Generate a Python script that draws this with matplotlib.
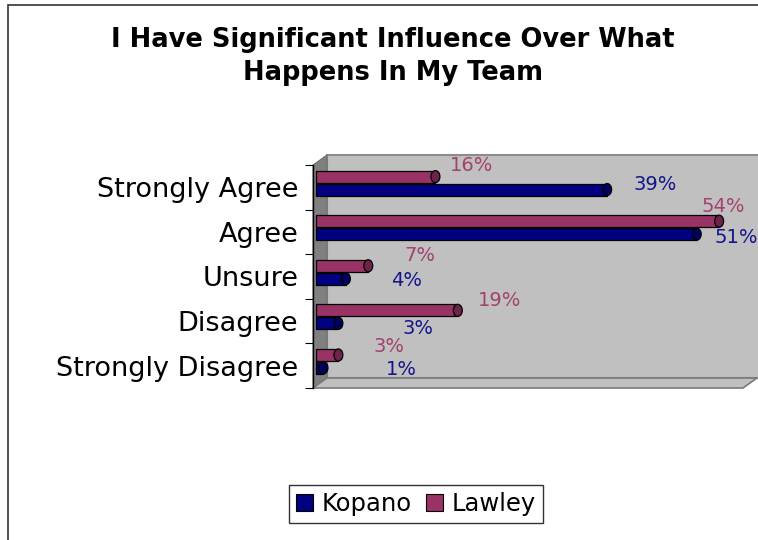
import numpy as np
import matplotlib.pyplot as plt
from matplotlib.patches import Polygon, Ellipse, Rectangle, Patch

# Survey results (percent of respondents)
categories = ['Strongly Agree', 'Agree', 'Unsure', 'Disagree', 'Strongly Disagree']
kopano = [39, 51, 4, 3, 1]
lawley = [16, 54, 7, 19, 3]
series_names = ['Kopano', 'Lawley']

# value label offsets from the bar end, in pixels (dx right, dy down)
kopano_lbl_dx = [48, 40, 61, 80, 78]
kopano_lbl_dy = [-5, 3, 2, 5, 2]
lawley_lbl_dx = [36, 4, 52, 42, 51]
lawley_lbl_dy = [-11, -15, -10, -10, -8]

KOPANO_COL = '#000080'
LAWLEY_COL = '#993366'
KOPANO_CAP = '#00005C'
LAWLEY_CAP = '#6E2449'
KOPANO_TXT = '#15158A'
LAWLEY_TXT = '#A3416F'

W, H = 758, 540
fig = plt.figure(figsize=(W / 100, H / 100), dpi=100)
fig.patch.set_facecolor('white')

# outer chart frame
fig.add_artist(Rectangle((8 / W, -0.05), 1.1, 1 - 5 / H + 0.05, transform=fig.transFigure,
                         fill=False, edgecolor='#333333', lw=1.2))

fig.text(393 / W, 1 - 40 / H, 'I Have Significant Influence Over What',
         ha='center', va='center', fontsize=18.5, fontweight='bold')
fig.text(393 / W, 1 - 73 / H, 'Happens In My Team',
         ha='center', va='center', fontsize=18.5, fontweight='bold')

# front plane of the 3-D plot area
ax_l, ax_r, ax_t, ax_b = 313, 743, 165, 388
ax = fig.add_axes([ax_l / W, 1 - ax_b / H, (ax_r - ax_l) / W, (ax_b - ax_t) / H])
ax.patch.set_visible(False)

# depth of walls as fraction of axes
dx = 14 / (ax_r - ax_l)
dy = 10 / (ax_b - ax_t)

back = Polygon([(dx, dy), (dx, 1 + dy), (1 + dx + 0.05, 1 + dy), (1 + dx + 0.05, dy)],
               closed=True, transform=ax.transAxes, clip_on=False,
               facecolor='#C0C0C0', edgecolor='#8C8C8C', lw=1.5, zorder=0)
side = Polygon([(0, 0), (0, 1), (dx, 1 + dy), (dx, dy)], closed=True,
               transform=ax.transAxes, clip_on=False,
               facecolor='#808080', edgecolor='#6E6E6E', lw=0.8, zorder=0.5)
floor = Polygon([(0, 0), (dx, dy), (1 + dx, dy), (1, 0)], closed=True,
                transform=ax.transAxes, clip_on=False,
                facecolor='#C0C0C0', edgecolor='#7A7A7A', lw=1.2, zorder=0.6)
for p in (back, side, floor):
    ax.add_patch(p)

y = np.arange(len(categories))
bar_h = 0.27
k_pos = y + 0.05
l_pos = y - 0.24
cap_w = 1.2  # width of the cylinder end in % units

for vals, pos, col, cap in [(kopano, k_pos, KOPANO_COL, KOPANO_CAP),
                            (lawley, l_pos, LAWLEY_COL, LAWLEY_CAP)]:
    ax.barh(pos, vals, height=bar_h, color=col, edgecolor='black', lw=0.9, zorder=3)
    for v, p in zip(vals, pos):
        ax.add_patch(Ellipse((v, p), cap_w, bar_h, facecolor=cap,
                             edgecolor='black', lw=0.9, zorder=4))

for vals, pos, ddx, ddy, col in [(kopano, k_pos, kopano_lbl_dx, kopano_lbl_dy, KOPANO_TXT),
                                 (lawley, l_pos, lawley_lbl_dx, lawley_lbl_dy, LAWLEY_TXT)]:
    for v, p, ox, oy in zip(vals, pos, ddx, ddy):
        ax.annotate(f'{v}%', (v, p), xytext=(ox, -oy), textcoords='offset pixels',
                    ha='center', va='center', fontsize=14, color=col, zorder=5,
                    annotation_clip=False)

ax.set_xlim(-0.4, 57.2)
ax.set_ylim(len(categories) - 0.5, -0.5)
ax.set_xticks([])
ax.set_yticks(y)
ax.set_yticklabels(categories, fontsize=19.5)
ax.set_yticks(np.arange(len(categories) + 1) - 0.5, minor=True)
ax.tick_params(axis='y', which='major', length=0, pad=10.5)
ax.tick_params(axis='y', which='minor', length=6, width=0.8, direction='out')
for s in ('top', 'right', 'bottom'):
    ax.spines[s].set_visible(False)
ax.spines['left'].set_linewidth(1.0)
ax.spines['left'].set_zorder(2)

handles = [Patch(facecolor=KOPANO_COL, edgecolor='black', lw=0.8, label=series_names[0]),
           Patch(facecolor=LAWLEY_COL, edgecolor='black', lw=0.8, label=series_names[1])]
leg = fig.legend(handles=handles, loc='center', ncol=2,
                 bbox_to_anchor=(416 / W, 1 - 504 / H), fontsize=17.5,
                 frameon=True, fancybox=False, handlelength=0.7, handleheight=0.7,
                 handletextpad=0.35, columnspacing=0.6, borderpad=0.3, borderaxespad=0)
leg.get_frame().set_edgecolor('black')
leg.get_frame().set_linewidth(1.0)

fig.savefig('out.png', dpi=100)
